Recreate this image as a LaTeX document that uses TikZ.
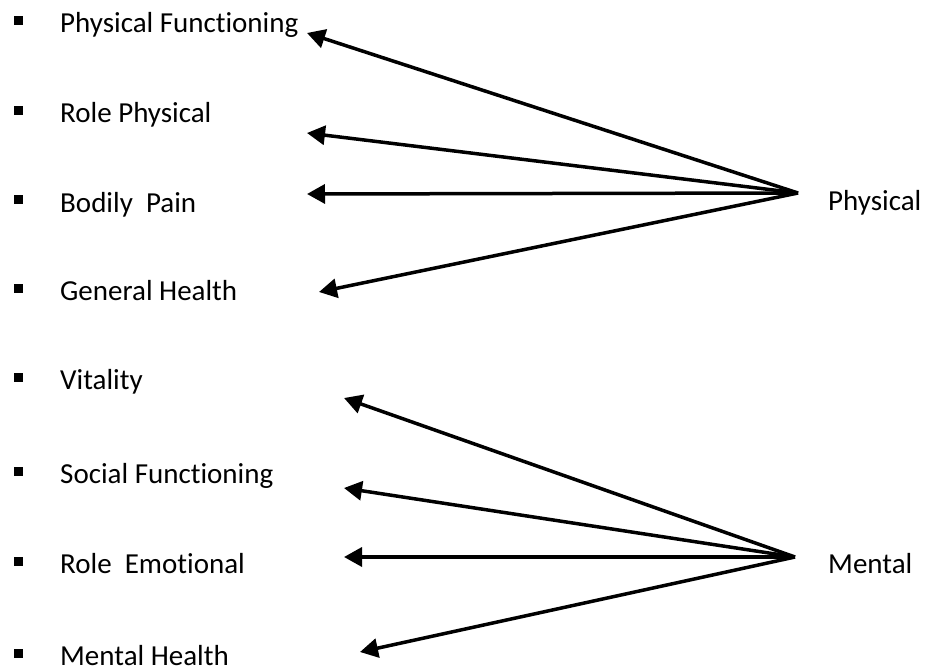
\documentclass[tikz,border=0pt]{standalone}
\usepackage{fontspec}
\setmainfont{Carlito}[Ligatures=NoCommon]
\usetikzlibrary{arrows.meta}
\begin{document}
\begin{tikzpicture}[x=1pt,y=-1pt,
  lbl/.style={anchor=base west,inner sep=0pt,font=\fontsize{29}{31}\selectfont},
  bul/.style={fill=black,draw=none,minimum size=9pt,inner sep=0pt},
  conn/.style={line width=3.5pt,-{Triangle[length=18pt,width=19pt]}}]
\useasboundingbox (0,0) rectangle (926,671);
% items
\foreach \n/\t/\b in {pf/Physical Functioning/33, rp/Role Physical/123, bp/Bodily\ \ Pain/212, gh/General Health/300,
  vt/Vitality/389, sf/Social Functioning/483, re/Role\ \ Emotional/573, mh/Mental Health/665}{
  \node[lbl] (\n) at (60,\b) {\t};
  \node[bul] (\n b) at (18,\b-12) {};
}
\node[lbl] (phys) at (828,211) {Physical};
\node[lbl] (ment) at (828,573) {Mental};
% convergence points
\coordinate (P) at (798,193);
\coordinate (M) at (795,557);
% arrow tips
\coordinate (t1) at (307,33);
\coordinate (t2) at (307,133);
\coordinate (t3) at (307,194);
\coordinate (t4) at (319,292);
\coordinate (t5) at (344,398);
\coordinate (t6) at (344,488);
\coordinate (t7) at (344,557);
\coordinate (t8) at (360,652);
\foreach \t in {t1,t2,t3,t4}{\draw[conn] (P) -- (\t);}
\foreach \t in {t5,t6,t7,t8}{\draw[conn] (M) -- (\t);}
\end{tikzpicture}
\end{document}
